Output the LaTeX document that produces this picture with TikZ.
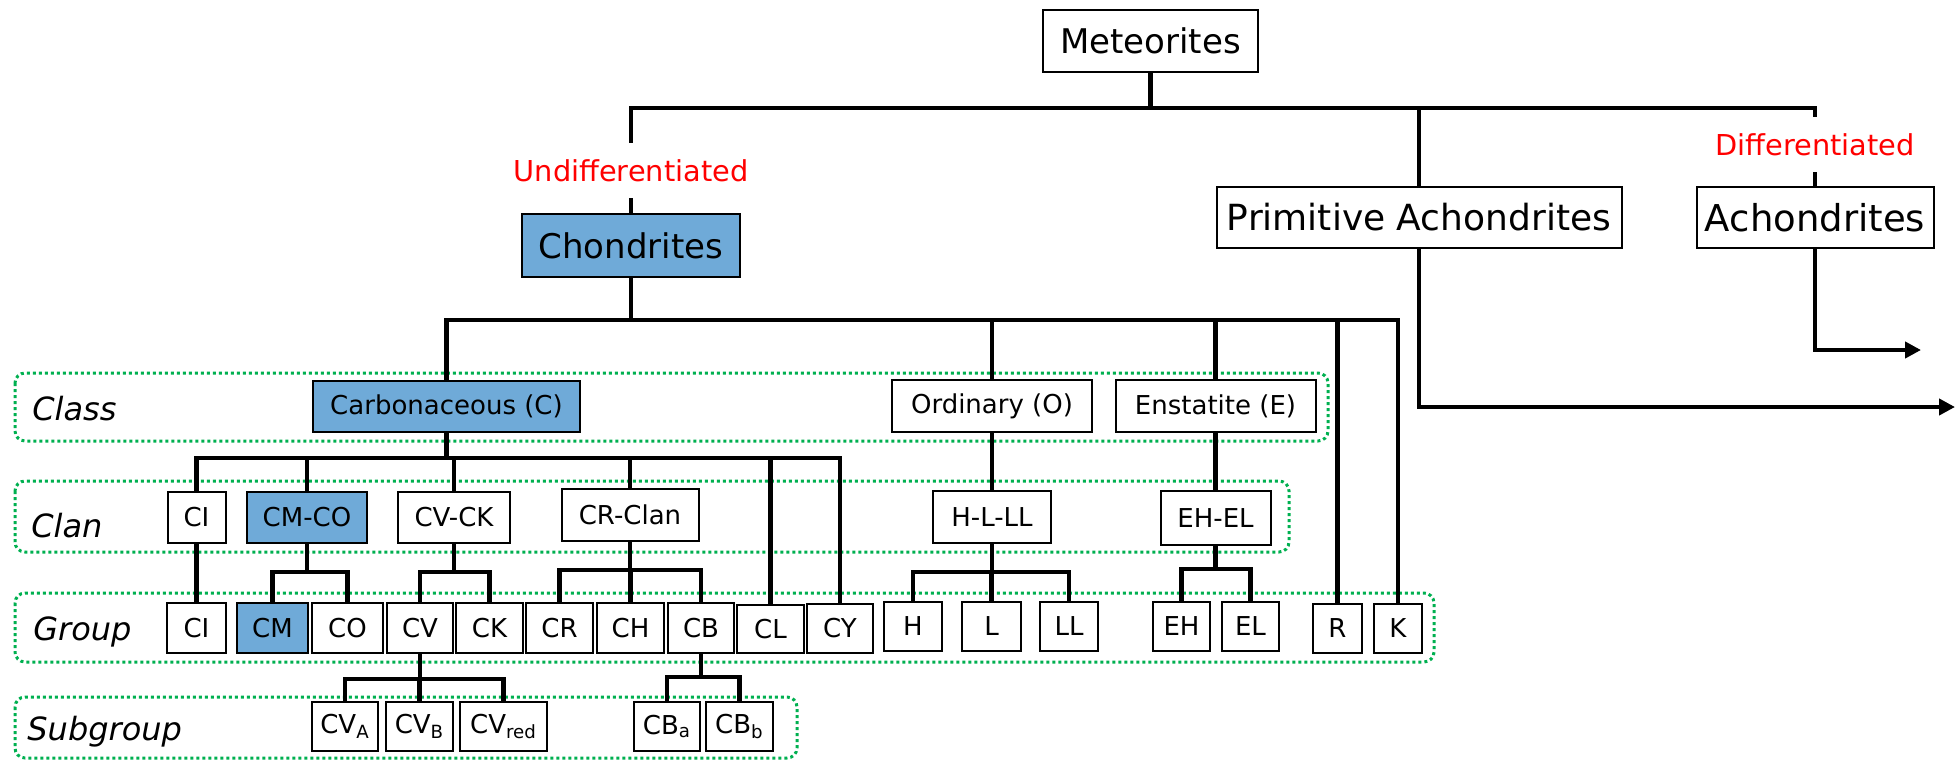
\documentclass[tikz,border=0pt]{standalone}
\usepackage{fontspec}
\setmainfont{DejaVu Sans}
\usetikzlibrary{arrows.meta}
\definecolor{cblue}{RGB}{111,170,216}
\definecolor{dotgreen}{RGB}{0,176,80}
\begin{document}
\begin{tikzpicture}[x=0.5pt,y=-0.5pt,
  box/.style={draw=black,line width=1pt,fill=white,inner sep=0pt,font=\fontsize{13}{15}\selectfont},
  big/.style={box,font=\fontsize{17}{20}\selectfont},
  hl/.style={fill=cblue},
  wh/.style 2 args={minimum width=#1*0.5pt,minimum height=#2*0.5pt},
  conn/.style={line width=2.3pt,line join=miter},
  arr/.style={conn,-{Triangle[length=8pt,width=8pt]}},
  band/.style={draw=dotgreen,line width=1.5pt,dash pattern=on 1.5pt off 1.5pt,rounded corners=5pt},
  rowlabel/.style={anchor=base west,inner sep=0pt,font=\fontsize{16}{19}\selectfont\itshape},
  redlbl/.style={text=red,inner sep=0pt,minimum height=27.5pt,font=\fontsize{14.4}{17}\selectfont}]
\useasboundingbox (0,0) rectangle (1957,760);

% dotted bands
\draw[band] (15,373) rectangle (1328,441);
\draw[band] (15,481) rectangle (1289,552);
\draw[band] (15,593) rectangle (1434,662);
\draw[band] (15,697) rectangle (797,758);

% row labels
\node[rowlabel] (lclass) at (32,420) {Class};
\node[rowlabel] (lclan) at (31,537) {Clan};
\node[rowlabel] (lgroup) at (33,640) {Group};
\node[rowlabel] (lsub) at (27,740) {Subgroup};

% top level
\node[big,wh={215}{62}] (met) at (1150.5,41) {Meteorites};
\node[big,hl,wh={218}{63}] (chon) at (631,245.5) {Chondrites};
\node[box,font=\fontsize{18}{21}\selectfont,wh={405}{61}] (prim) at (1419,217.5) {Primitive Achondrites};
\node[box,font=\fontsize{18.5}{21}\selectfont,wh={237}{61}] (achon) at (1815,217.5) {Achondrites};
\node[redlbl] (undiff) at (631,170.5) {Undifferentiated};
\node[redlbl] (diff) at (1815,144.5) {Differentiated};

% class
\node[box,hl,wh={267}{51}] (carb) at (446.5,406.5) {Carbonaceous (C)};
\node[box,wh={200}{52}] (ord) at (992,406) {Ordinary (O)};
\node[box,wh={200}{52}] (ens) at (1215.5,406) {Enstatite (E)};

% clan
\node[box,wh={58}{51}] (clCI) at (196.5,517.5) {CI};
\node[box,hl,wh={120}{51}] (clCMCO) at (307,517.5) {CM-CO};
\node[box,wh={112}{51}] (clCVCK) at (454,517.5) {CV-CK};
\node[box,wh={137}{52}] (clCR) at (630,515) {CR-Clan};
\node[box,wh={118}{52}] (clHLL) at (992,517) {H-L-LL};
\node[box,wh={110}{54}] (clEHEL) at (1215.5,518) {EH-EL};

% group
\node[box,wh={59}{50}] (gCI) at (196.5,628) {CI};
\node[box,hl,wh={71}{50}] (gCM) at (272.5,628) {CM};
\node[box,wh={71}{50}] (gCO) at (347.5,628) {CO};
\node[box,wh={66}{50}] (gCV) at (420,628) {CV};
\node[box,wh={67}{50}] (gCK) at (489.5,628) {CK};
\node[box,wh={67}{50}] (gCR) at (559.5,628) {CR};
\node[box,wh={67}{50}] (gCH) at (630.5,628) {CH};
\node[box,wh={66}{50}] (gCB) at (701,628) {CB};
\node[box,wh={67}{48}] (gCL) at (770.5,629) {CL};
\node[box,wh={66}{49}] (gCY) at (840,628) {CY};
\node[box,wh={58}{49}] (gH) at (913,626.5) {H};
\node[box,wh={59}{49}] (gL) at (991.5,626.5) {L};
\node[box,wh={58}{49}] (gLL) at (1069,626.5) {LL};
\node[box,wh={57}{49}] (gEH) at (1181.5,626.5) {EH};
\node[box,wh={57}{49}] (gEL) at (1250.5,626.5) {EL};
\node[box,wh={49}{49}] (gR) at (1337.5,628) {R};
\node[box,wh={48}{49}] (gK) at (1398,628) {K};

% subgroup
\node[box,wh={66}{49}] (sCVA) at (345,726.5) {CV\textsubscript{A}};
\node[box,wh={67}{49}] (sCVB) at (419.5,726.5) {CV\textsubscript{B}};
\node[box,wh={87}{49}] (sCVred) at (503.5,726.5) {CV\textsubscript{red}};
\node[box,wh={66}{49}] (sCBa) at (667,726.5) {CB\textsubscript{a}};
\node[box,wh={67}{49}] (sCBb) at (739.5,726.5) {CB\textsubscript{b}};

% junction coordinates
\coordinate (topR) at (1815,108);
\coordinate (cbar) at (631,320);
\coordinate (cabar) at (446.5,458);
\coordinate (b1) at (307,572);
\coordinate (b2) at (454,572);
\coordinate (b3) at (630,570);
\coordinate (b4) at (992,572);
\coordinate (b5) at (1215.5,569);
\coordinate (b6) at (420,679);
\coordinate (b7) at (701,677);
\coordinate (arA) at (1921,350);
\coordinate (arP) at (1955,407);

% top connectors
\draw[conn] (undiff.north) |- (topR) -- (diff.north);
\draw[conn] (met.south) -- (met.south |- topR);
\draw[conn] (prim.north) -- (prim.north |- topR);
\draw[conn] (undiff.south) -- (chon.north);
\draw[conn] (diff.south) -- (achon.north);
\draw[arr] (achon.south) |- (arA);
\draw[arr] (prim.south) |- (arP);

% chondrite classes
\draw[conn] (chon.south) -- (cbar);
\draw[conn] (carb.north) |- (cbar) -| (gK.north);
\draw[conn] (ord.north) -- (ord.north |- cbar);
\draw[conn] (ens.north) -- (ens.north |- cbar);
\draw[conn] (gR.north) -- (gR.north |- cbar);

% carbonaceous clans
\draw[conn] (carb.south) -- (cabar);
\draw[conn] (clCI.north) |- (cabar) -| (gCY.north);
\draw[conn] (clCMCO.north) -- (clCMCO.north |- cabar);
\draw[conn] (clCVCK.north) -- (clCVCK.north |- cabar);
\draw[conn] (clCR.north) -- (clCR.north |- cabar);
\draw[conn] (gCL.north) -- (gCL.north |- cabar);

% clans to groups
\draw[conn] (clCI.south) -- (gCI.north);
\draw[conn] (clCMCO.south) -- (b1);
\draw[conn] (gCM.north) |- (b1) -| (gCO.north);
\draw[conn] (clCVCK.south) -- (b2);
\draw[conn] (gCV.north) |- (b2) -| (gCK.north);
\draw[conn] (clCR.south) -- (b3);
\draw[conn] (gCR.north) |- (b3) -| (gCB.north);
\draw[conn] (gCH.north) -- (gCH.north |- b3);
\draw[conn] (ord.south) -- (clHLL.north);
\draw[conn] (clHLL.south) -- (b4);
\draw[conn] (gH.north) |- (b4) -| (gLL.north);
\draw[conn] (gL.north) -- (gL.north |- b4);
\draw[conn] (ens.south) -- (clEHEL.north);
\draw[conn] (clEHEL.south) -- (b5);
\draw[conn] (gEH.north) |- (b5) -| (gEL.north);

% groups to subgroups
\draw[conn] (gCV.south) -- (b6);
\draw[conn] (sCVA.north) |- (b6) -| (sCVred.north);
\draw[conn] (sCVB.north) -- (sCVB.north |- b6);
\draw[conn] (gCB.south) -- (b7);
\draw[conn] (sCBa.north) |- (b7) -| (sCBb.north);
\end{tikzpicture}
\end{document}
